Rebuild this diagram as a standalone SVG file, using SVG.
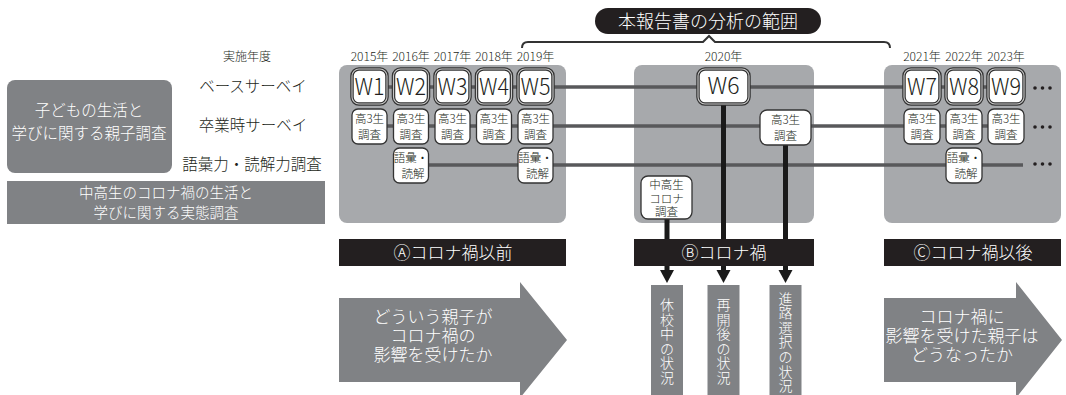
<svg xmlns="http://www.w3.org/2000/svg" width="1066" height="395" viewBox="0 0 1066 395">
<style>
text{font-family:"Noto Sans CJK JP","Noto Sans",sans-serif;font-weight:300}
.panel{fill:#a7a9ac}
.dgray{fill:#808285}
.bar{fill:#231f20}
.wt{fill:#fff;text-anchor:middle}
.lbl{fill:#231f20;text-anchor:middle}
.wo{fill:#fff;stroke:#333;stroke-width:3.5}
.wi{fill:none;stroke:#c8c8c8;stroke-width:1.1}
.sb{fill:#fff;stroke:#333;stroke-width:1.3}
.wtx{fill:#231f20;text-anchor:middle;font-size:23px}
.st{fill:#231f20;text-anchor:middle;font-size:11.5px}
.row{stroke:#58595b;stroke-width:3.5;fill:none}
.vl{stroke:#1a1a1a;stroke-width:5;fill:none}
.ah{fill:#1a1a1a}
.dot{fill:#231f20}
</style>

<!-- left labels -->
<g id="left-survey">
<rect x="7" y="80" width="165" height="93" rx="8" class="dgray"/>
<text class="wt" font-size="15.5" x="89" y="116">子どもの生活と</text>
<text class="wt" font-size="15.5" x="89" y="139">学びに関する親子調査</text>
</g>
<g id="corona-survey-band">
<rect x="7" y="181" width="318" height="43" class="dgray"/>
<text class="wt" font-size="14.5" x="166" y="198">中高生のコロナ禍の生活と</text>
<text class="wt" font-size="14.5" x="166" y="218">学びに関する実態調査</text>
</g>
<g id="row-labels">
<text class="lbl" font-size="12" x="247" y="61">実施年度</text>
<text class="lbl" font-size="15.5" x="253" y="92">ベースサーベイ</text>
<text class="lbl" font-size="15.5" x="253" y="131">卒業時サーベイ</text>
<text class="lbl" font-size="15.5" x="252" y="170">語彙力・読解力調査</text>
</g>

<!-- scope pill and brace -->
<g id="scope">
<rect x="595" y="8" width="226" height="26" rx="13" class="bar"/>
<text class="wt" font-size="18" x="708" y="28">本報告書の分析の範囲</text>
<path d="M522 48 Q522 42 528 42 H703 L709 36 L715 42 H884 Q890 42 890 48" fill="none" stroke="#333" stroke-width="2"/>
</g>

<!-- years -->
<g id="years" font-size="12">
<text class="lbl" x="369.5" y="61">2015年</text>
<text class="lbl" x="411" y="61">2016年</text>
<text class="lbl" x="452.5" y="61">2017年</text>
<text class="lbl" x="494" y="61">2018年</text>
<text class="lbl" x="535.5" y="61">2019年</text>
<text class="lbl" x="723.5" y="61">2020年</text>
<text class="lbl" x="922" y="61">2021年</text>
<text class="lbl" x="964" y="61">2022年</text>
<text class="lbl" x="1006" y="61">2023年</text>
</g>

<!-- panels -->
<g id="panel-a"><rect x="339" y="65" width="227" height="158" rx="8" class="panel"/></g>
<g id="panel-b"><rect x="634" y="65" width="180" height="158" rx="8" class="panel"/></g>
<g id="panel-c"><rect x="884" y="65" width="177" height="158" rx="8" class="panel"/></g>

<!-- connectors -->
<g id="connectors">
<path class="row" d="M369 87 H1006"/>
<path class="row" d="M369 126 H1006"/>
<path class="row" d="M411 165 H1023"/>
<path class="vl" d="M667 219 V272"/>
<path class="vl" d="M723.5 104 V272"/>
<path class="vl" d="M785.5 145 V272"/>
</g>

<!-- period bars -->
<g id="bar-a"><rect x="339" y="239" width="227" height="27" class="bar"/><text class="wt" font-size="17" x="453" y="259">Ⓐコロナ禍以前</text></g>
<g id="bar-b"><rect x="634" y="239" width="180" height="27" class="bar"/><text class="wt" font-size="17" x="724" y="259">Ⓑコロナ禍</text></g>
<g id="bar-c"><rect x="884" y="239" width="177" height="27" class="bar"/><text class="wt" font-size="17" x="973" y="259">Ⓒコロナ禍以後</text></g>

<g id="arrowheads">
<polygon class="ah" points="660,270 674,270 667,283"/>
<polygon class="ah" points="716.5,270 730.5,270 723.5,283"/>
<polygon class="ah" points="778.5,270 792.5,270 785.5,283"/>
</g>

<!-- W boxes -->
<g id="W1"><rect class="wo" x="352" y="69" width="35" height="35" rx="7"/><rect class="wi" x="352" y="69" width="35" height="35" rx="7"/><text class="wtx" x="369.5" y="95" textLength="30" lengthAdjust="spacingAndGlyphs">W1</text></g>
<g id="W2"><rect class="wo" x="393.5" y="69" width="35" height="35" rx="7"/><rect class="wi" x="393.5" y="69" width="35" height="35" rx="7"/><text class="wtx" x="411" y="95" textLength="30" lengthAdjust="spacingAndGlyphs">W2</text></g>
<g id="W3"><rect class="wo" x="435" y="69" width="35" height="35" rx="7"/><rect class="wi" x="435" y="69" width="35" height="35" rx="7"/><text class="wtx" x="452.5" y="95" textLength="30" lengthAdjust="spacingAndGlyphs">W3</text></g>
<g id="W4"><rect class="wo" x="476.5" y="69" width="35" height="35" rx="7"/><rect class="wi" x="476.5" y="69" width="35" height="35" rx="7"/><text class="wtx" x="494" y="95" textLength="30" lengthAdjust="spacingAndGlyphs">W4</text></g>
<g id="W5"><rect class="wo" x="518" y="69" width="35" height="35" rx="7"/><rect class="wi" x="518" y="69" width="35" height="35" rx="7"/><text class="wtx" x="535.5" y="95" textLength="30" lengthAdjust="spacingAndGlyphs">W5</text></g>
<g id="W6"><rect class="wo" x="698" y="69" width="51" height="35" rx="7"/><rect class="wi" x="698" y="69" width="51" height="35" rx="7"/><text class="wtx" font-size="21" x="723.5" y="94">W6</text></g>
<g id="W7"><rect class="wo" x="904" y="69" width="36" height="35" rx="7"/><rect class="wi" x="904" y="69" width="36" height="35" rx="7"/><text class="wtx" x="922" y="95" textLength="30" lengthAdjust="spacingAndGlyphs">W7</text></g>
<g id="W8"><rect class="wo" x="946" y="69" width="36" height="35" rx="7"/><rect class="wi" x="946" y="69" width="36" height="35" rx="7"/><text class="wtx" x="964" y="95" textLength="30" lengthAdjust="spacingAndGlyphs">W8</text></g>
<g id="W9"><rect class="wo" x="988" y="69" width="36" height="35" rx="7"/><rect class="wi" x="988" y="69" width="36" height="35" rx="7"/><text class="wtx" x="1006" y="95" textLength="30" lengthAdjust="spacingAndGlyphs">W9</text></g>

<!-- graduate surveys -->
<g id="grad-2015"><rect class="sb" x="352" y="109" width="35" height="35" rx="6"/><text class="st" x="369.5" y="123">高3生</text><text class="st" x="369.5" y="139">調査</text></g>
<g id="grad-2016"><rect class="sb" x="393.5" y="109" width="35" height="35" rx="6"/><text class="st" x="411" y="123">高3生</text><text class="st" x="411" y="139">調査</text></g>
<g id="grad-2017"><rect class="sb" x="435" y="109" width="35" height="35" rx="6"/><text class="st" x="452.5" y="123">高3生</text><text class="st" x="452.5" y="139">調査</text></g>
<g id="grad-2018"><rect class="sb" x="476.5" y="109" width="35" height="35" rx="6"/><text class="st" x="494" y="123">高3生</text><text class="st" x="494" y="139">調査</text></g>
<g id="grad-2019"><rect class="sb" x="518" y="109" width="35" height="35" rx="6"/><text class="st" x="535.5" y="123">高3生</text><text class="st" x="535.5" y="139">調査</text></g>
<g id="grad-2020"><rect class="sb" x="760" y="110" width="51" height="35" rx="7"/><text class="st" x="785.5" y="124">高3生</text><text class="st" x="785.5" y="140">調査</text></g>
<g id="grad-2021"><rect class="sb" x="904" y="109" width="36" height="35" rx="6"/><text class="st" x="922" y="123">高3生</text><text class="st" x="922" y="139">調査</text></g>
<g id="grad-2022"><rect class="sb" x="946" y="109" width="36" height="35" rx="6"/><text class="st" x="964" y="123">高3生</text><text class="st" x="964" y="139">調査</text></g>
<g id="grad-2023"><rect class="sb" x="988" y="109" width="36" height="35" rx="6"/><text class="st" x="1006" y="123">高3生</text><text class="st" x="1006" y="139">調査</text></g>

<!-- vocabulary / reading -->
<g id="vocab-2016"><rect class="sb" x="393.5" y="148" width="35" height="35" rx="6"/><text class="st" x="411" y="162">語彙・</text><text class="st" x="413" y="178">読解</text></g>
<g id="vocab-2019"><rect class="sb" x="518" y="148" width="35" height="35" rx="6"/><text class="st" x="535.5" y="162">語彙・</text><text class="st" x="537.5" y="178">読解</text></g>
<g id="vocab-2022"><rect class="sb" x="946" y="148" width="36" height="35" rx="6"/><text class="st" x="964" y="162">語彙・</text><text class="st" x="966" y="178">読解</text></g>

<!-- corona survey -->
<g id="corona-survey"><rect class="sb" x="641" y="176" width="51" height="43" rx="7"/><text class="st" font-size="11" x="666.5" y="189">中高生</text><text class="st" font-size="11" x="666.5" y="202.5">コロナ</text><text class="st" font-size="11" x="666.5" y="216">調査</text></g>

<!-- continuation dots -->
<g id="dots">
<circle class="dot" cx="1035" cy="88" r="1.8"/><circle class="dot" cx="1042.5" cy="88" r="1.8"/><circle class="dot" cx="1050" cy="88" r="1.8"/>
<circle class="dot" cx="1035" cy="127" r="1.8"/><circle class="dot" cx="1042.5" cy="127" r="1.8"/><circle class="dot" cx="1050" cy="127" r="1.8"/>
<circle class="dot" cx="1035" cy="164" r="1.8"/><circle class="dot" cx="1042.5" cy="164" r="1.8"/><circle class="dot" cx="1050" cy="164" r="1.8"/>
</g>

<!-- outcome boxes -->
<g id="out-closure"><rect class="dgray" x="651" y="285" width="32" height="110"/>
<text class="wt" font-size="14" x="667 667 667 667 667 667" y="310 324.6 339.2 353.8 368.4 383">休校中の状況</text></g>
<g id="out-reopen"><rect class="dgray" x="707.5" y="285" width="32" height="110"/>
<text class="wt" font-size="14" x="723.5 723.5 723.5 723.5 723.5 723.5" y="310 324.6 339.2 353.8 368.4 383">再開後の状況</text></g>
<g id="out-career"><rect class="dgray" x="769.5" y="285" width="32" height="110"/>
<text class="wt" font-size="14" x="785.5 785.5 785.5 785.5 785.5 785.5 785.5" y="303.5 318.1 332.7 347.3 361.9 376.5 391.1">進路選択の状況</text></g>

<!-- big arrows -->
<g id="arrow-a"><path class="dgray" d="M339 298 H520 V282 L567 340 L520 398 V382 H339 Z"/>
<text class="wt" font-size="17" x="433" y="323">どういう親子が</text>
<text class="wt" font-size="17" x="433" y="342">コロナ禍の</text>
<text class="wt" font-size="17" x="433" y="361">影響を受けたか</text></g>
<g id="arrow-c"><path class="dgray" d="M884 298 H1016 V282 L1062 340 L1016 398 V382 H884 Z"/>
<text class="wt" font-size="17" x="962" y="323">コロナ禍に</text>
<text class="wt" font-size="17" x="962" y="342">影響を受けた親子は</text>
<text class="wt" font-size="17" x="962" y="361">どうなったか</text></g>
</svg>
